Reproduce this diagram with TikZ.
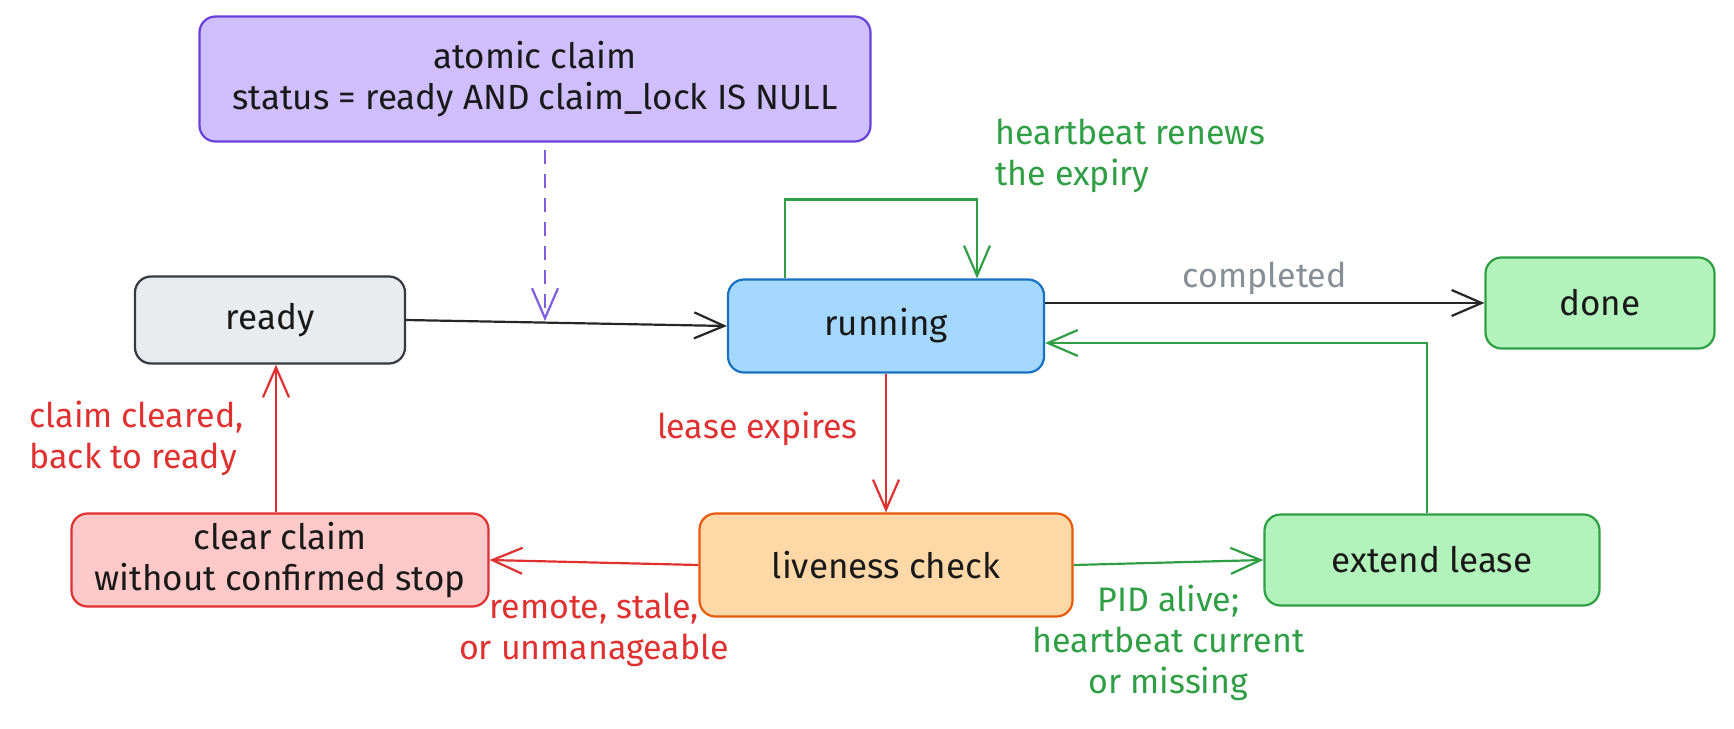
\documentclass[tikz,border=0pt]{standalone}
\usepackage{fontspec}
\setmainfont{Fira Sans}
\usetikzlibrary{arrows.meta}

\definecolor{claimfill}{HTML}{D0BFFF}
\definecolor{claimline}{HTML}{6741D9}
\definecolor{readyfill}{HTML}{E9ECEF}
\definecolor{readyline}{HTML}{343A40}
\definecolor{runfill}{HTML}{A5D8FF}
\definecolor{runline}{HTML}{1971C2}
\definecolor{okfill}{HTML}{B2F2BB}
\definecolor{okline}{HTML}{2F9E44}
\definecolor{clearfill}{HTML}{FFC9C9}
\definecolor{clearline}{HTML}{E03131}
\definecolor{checkfill}{HTML}{FFD8A8}
\definecolor{checkline}{HTML}{E8590C}
\definecolor{mutedtext}{HTML}{868E96}

\tikzset{
  state/.style={draw,line width=2.2pt,rounded corners=16pt,align=center,inner sep=0pt,
    font=\fontsize{35}{41}\selectfont,text=black!90},
  link/.style={line width=2.2pt,-{Straight Barb[length=30pt,width=26pt,line width=2.2pt]}},
  note/.style={font=\fontsize{34}{41}\selectfont,align=center}
}

\begin{document}
\begin{tikzpicture}[x=1pt,y=-1pt]
\useasboundingbox (0,0) rectangle (1734,728);

\node[state,fill=claimfill,draw=claimline,minimum width=671pt,minimum height=125pt] (claim) at (535,79)
  {atomic claim\\status = ready AND claim\_lock IS NULL};
\node[state,fill=readyfill,draw=readyline,minimum width=270pt,minimum height=87pt] (ready) at (270,320) {ready};
\node[state,fill=runfill,draw=runline,minimum width=316pt,minimum height=93pt] (running) at (886,326) {running};
\node[state,fill=okfill,draw=okline,minimum width=229pt,minimum height=91pt] (done) at (1600,303) {done};
\node[state,fill=clearfill,draw=clearline,minimum width=417pt,minimum height=93pt] (clear) at (280,560)
  {clear claim\\without confirmed stop};
\node[state,fill=checkfill,draw=checkline,minimum width=373pt,minimum height=103pt] (check) at (886,565) {liveness check};
\node[state,fill=okfill,draw=okline,minimum width=335pt,minimum height=91pt] (extend) at (1432,560) {extend lease};
\coordinate (claimhit) at (545,321);

\draw[link,black!85] (ready.east) -- (running.west);
\draw[link,claimline!85!white,dash pattern=on 14pt off 10pt,shorten <=7pt] ([xshift=10pt]claim.south) -- (claimhit);
\draw[link,okline] ([xshift=-101pt]running.north) -- ++(0,-79)
  -| node[pos=0.5,note,text=okline,anchor=south west,xshift=14pt,yshift=2pt,align=left] {heartbeat renews\\the expiry}
  ([xshift=91pt]running.north);
\draw[link,black!85] (running.east |- done.west) -- node[note,text=mutedtext,above=4pt] {completed} (done.west);
\draw[link,okline] ([xshift=-5pt]extend.north) |- ([yshift=-17pt]running.east);
\draw[link,clearline] (running.south) -- node[note,text=clearline,left=24pt,pos=0.4] {lease expires} (check.north);
\draw[link,clearline] (check.west) -- node[note,text=clearline,below=26pt] {remote, stale,\\or unmanageable} (clear.east);
\draw[link,okline] (check.east) -- node[note,text=okline,below=18pt] {PID alive;\\heartbeat current\\or missing} (extend.west);
\draw[link,clearline] ([xshift=-4pt]clear.north) -- node[note,text=clearline,left=28pt,align=left] {claim cleared,\\back to ready} ([xshift=6pt]ready.south);
\end{tikzpicture}
\end{document}
